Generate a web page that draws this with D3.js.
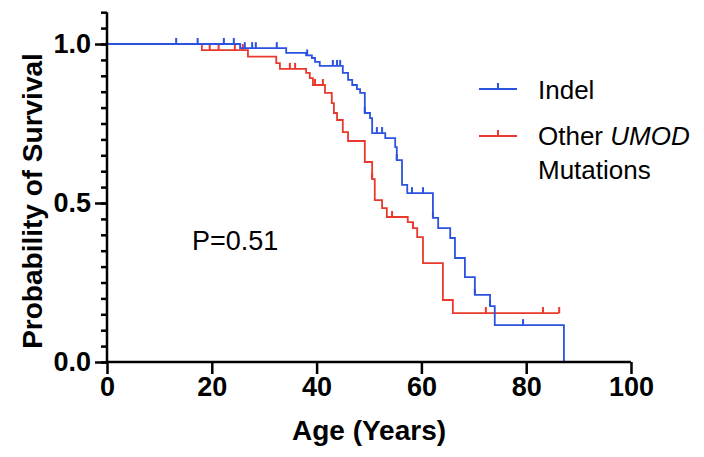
<!DOCTYPE html>
<html>
<head>
<meta charset="utf-8">
<script src="https://cdn.jsdelivr.net/npm/d3@7"></script>
<style>
  html, body { margin: 0; padding: 0; background: #fff; }
  svg { display: block; }
  text { font-family: "Liberation Sans", Arial, Helvetica, sans-serif; }
</style>
</head>
<body>
<svg id="chart" width="704" height="457"></svg>
<script>
// ---- data ----
const ageTicks = [0, 20, 40, 60, 80, 100];
const survTicks = [0.0, 0.5, 1.0];
const survTickLabels = ["0.0", "0.5", "1.0"];

// Indel: event ages and survival after each event
const indelTimes = [25.4, 34.2, 38.0, 39.1, 39.7, 40.6, 45.0, 46.0, 46.8, 47.7, 48.3, 49.2, 50.2, 50.6,
  53.1, 55.0, 55.3, 56.3, 57.3, 62.2, 63.2, 65.5, 66.4, 68.3, 70.2, 73.1, 74.0, 87.2];
const indelSurv = [0.987, 0.972, 0.964, 0.956, 0.944, 0.931, 0.909, 0.887, 0.871, 0.858, 0.846, 0.783, 0.767, 0.720,
  0.704, 0.676, 0.635, 0.557, 0.531, 0.453, 0.421, 0.390, 0.327, 0.267, 0.211, 0.176, 0.116, 0.0];
const indelCensored = [13.2, 17.3, 22.3, 24.2, 26.3, 27.7, 28.4, 32.4, 38.2, 43.1, 43.9, 44.5, 49.2, 51.5, 52.5,
  55.3, 58.2, 60.3, 62.2, 70.2, 73.1, 79.4];
const indelEnd = 87.2;

// Other UMOD mutations
const otherTimes = [18.1, 26.9, 32.3, 33.0, 38.0, 38.7, 39.3, 41.6, 42.9, 43.3, 43.9, 45.0, 46.0, 49.2,
  50.6, 51.1, 52.5, 53.4, 57.4, 58.4, 59.2, 60.3, 64.1, 66.0];
const otherSurv = [0.981, 0.960, 0.940, 0.922, 0.909, 0.893, 0.871, 0.846, 0.814, 0.783, 0.761, 0.723, 0.695, 0.629,
  0.575, 0.509, 0.484, 0.456, 0.440, 0.421, 0.393, 0.311, 0.195, 0.154];
const otherCensored = [19.6, 21.3, 24.4, 25.9, 34.9, 35.9, 39.7, 41.2, 50.6, 54.4, 58.4, 72.3, 83.2, 86.3];
const otherEnd = 86.3;

const seriesNames = ["Indel", "Other", "Mutations"];
const pValueText = "P=0.51";

// ---- layout ----
const blue = "#2c52e0";
const red = "#e8392c";
const svg = d3.select("#chart");
const x = d3.scaleLinear().domain([0, 100]).range([107, 631]);
const y = d3.scaleLinear().domain([0, 1.1]).range([362, 12.2]);

function stepPoints(times, surv, end) {
  const pts = [[0, 1]];
  times.forEach((t, i) => pts.push([t, surv[i]]));
  const last = pts[pts.length - 1];
  if (end > last[0]) pts.push([end, last[1]]);
  return pts;
}
function survAt(times, surv, t) {
  let s = 1;
  for (let i = 0; i < times.length; i++) if (times[i] <= t) s = surv[i];
  return s;
}

const line = d3.line().x(d => x(d[0])).y(d => y(d[1])).curve(d3.curveStepAfter);

const series = [
  { times: otherTimes, surv: otherSurv, cens: otherCensored, end: otherEnd, color: red },
  { times: indelTimes, surv: indelSurv, cens: indelCensored, end: indelEnd, color: blue }
];

series.forEach(s => {
  svg.append("path")
    .attr("d", line(stepPoints(s.times, s.surv, s.end)))
    .attr("fill", "none")
    .attr("stroke", s.color)
    .attr("stroke-width", 1.8);
  svg.append("g").selectAll("line").data(s.cens).join("line")
    .attr("x1", d => x(d)).attr("x2", d => x(d))
    .attr("y1", d => y(survAt(s.times, s.surv, d)))
    .attr("y2", d => y(survAt(s.times, s.surv, d)) - 6)
    .attr("stroke", s.color).attr("stroke-width", 2);
});

// ---- axes ----
const xAxis = d3.axisBottom(x).tickValues(ageTicks).tickSize(12).tickPadding(3).tickFormat(d3.format("d"));
const gx = svg.append("g").attr("transform", "translate(0,362)").call(xAxis);
gx.select(".domain").attr("d", `M${x(0)},0H${x(100)}`);

const minorVals = d3.range(0, 23).map(i => +(i * 0.05).toFixed(2));
const gyMinor = svg.append("g").attr("transform", "translate(107,0)")
  .call(d3.axisLeft(y).tickValues(minorVals).tickSize(6).tickFormat(""));
gyMinor.select(".domain").remove();
const gy = svg.append("g").attr("transform", "translate(107,0)")
  .call(d3.axisLeft(y).tickValues(survTicks).tickSize(12).tickPadding(4)
    .tickFormat((d, i) => survTickLabels[i]));
gy.select(".domain").attr("d", `M0,${y(0)}V${y(1.1)}`);

svg.selectAll(".domain").attr("stroke", "#000").attr("stroke-width", 2.5);
svg.selectAll(".tick line").attr("stroke", "#000").attr("stroke-width", 2.5);
svg.selectAll(".tick text").attr("fill", "#000").attr("font-size", 27).attr("font-weight", "bold")
  .attr("font-family", "'Liberation Sans', Arial, sans-serif");

// axis titles
svg.append("text").attr("x", x(50)).attr("y", 440).attr("text-anchor", "middle")
  .attr("font-size", 28).attr("font-weight", "bold").text("Age (Years)");
svg.append("text").attr("transform", `translate(42,${y(0.5) - 2}) rotate(-90)`).attr("text-anchor", "middle")
  .attr("font-size", 28).attr("font-weight", "bold").text("Probability of Survival");

// p value
svg.append("text").attr("x", 192).attr("y", 250).attr("font-size", 27).text(pValueText);

// legend
const legend = svg.append("g");
[[blue, 89], [red, 136]].forEach(([c, ly]) => {
  legend.append("line").attr("x1", 479).attr("x2", 517).attr("y1", ly).attr("y2", ly)
    .attr("stroke", c).attr("stroke-width", 1.8);
  legend.append("line").attr("x1", 498).attr("x2", 498).attr("y1", ly).attr("y2", ly - 6)
    .attr("stroke", c).attr("stroke-width", 2);
});
legend.append("text").attr("x", 538).attr("y", 99).attr("font-size", 26).text(seriesNames[0]);
const t2 = legend.append("text").attr("x", 538).attr("y", 145).attr("font-size", 26);
t2.append("tspan").text(seriesNames[1] + " ");
t2.append("tspan").attr("font-style", "italic").text("UMOD");
legend.append("text").attr("x", 538).attr("y", 179).attr("font-size", 26).text(seriesNames[2]);
</script>
</body>
</html>
